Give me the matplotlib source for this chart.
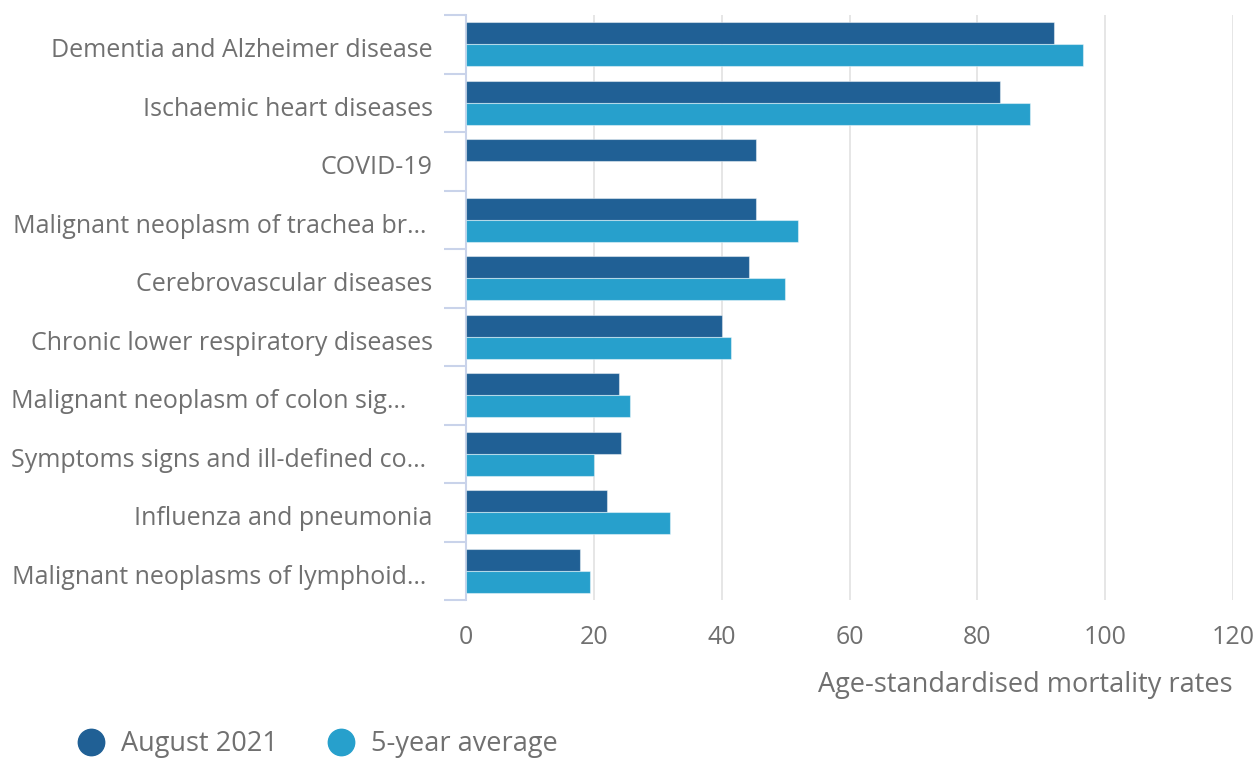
import matplotlib
matplotlib.use("Agg")
import matplotlib.pyplot as plt
from matplotlib.lines import Line2D
from matplotlib.ticker import FixedLocator
import numpy as np

categories = [
    "Dementia and Alzheimer disease",
    "Ischaemic heart diseases",
    "COVID-19",
    "Malignant neoplasm of trachea br\u2026 ",
    "Cerebrovascular diseases",
    "Chronic lower respiratory diseases",
    "Malignant neoplasm of colon sig\u2026    ",
    "Symptoms signs and ill-defined co\u2026 ",
    "Influenza and pneumonia",
    "Malignant neoplasms of lymphoid\u2026 ",
]
august_2021 = [92.0, 83.6, 45.3, 45.3, 44.2, 40.1, 23.9, 24.3, 22.1, 17.9]
five_year_avg = [96.6, 88.2, np.nan, 52.0, 49.9, 41.4, 25.7, 20.0, 31.9, 19.4]
x_ticks = [0, 20, 40, 60, 80, 100, 120]
series_names = ["August 2021", "5-year average"]

DARK = "#206095"
LIGHT = "#27a0cc"
TEXT = "#707070"
SPINE = "#c9d3ea"
GRID = "#e4e4e4"

plt.rcParams["font.family"] = ["Open Sans", "DejaVu Sans"]

fig = plt.figure(figsize=(12.57, 7.58), dpi=100)
ax = fig.add_axes([466 / 1257, 1 - 600 / 758, (1233 - 466) / 1257, (600 - 15) / 758])

y = np.arange(len(categories))
h = 0.38
ax.barh(y - h / 2, august_2021, height=h, color=DARK, edgecolor=(1, 1, 1, 0.45), linewidth=0.8, zorder=3)
ax.barh(y + h / 2, five_year_avg, height=h, color=LIGHT, edgecolor=(1, 1, 1, 0.45), linewidth=0.8, zorder=3)

ax.set_xlim(0, 120)
ax.set_ylim(len(categories) - 0.5, -0.5)
ax.set_xticks(x_ticks)
ax.set_xticklabels([str(v) for v in x_ticks])
ax.set_yticks(y + 0.06)
ax.set_yticklabels(categories)
ax.yaxis.set_minor_locator(FixedLocator(np.arange(-0.5, len(categories), 1.0)))

ax.tick_params(axis="y", which="major", length=0, pad=24, labelsize=18, labelcolor=TEXT)
ax.tick_params(axis="y", which="minor", length=16, width=1.5, color=SPINE)
ax.tick_params(axis="x", which="both", length=0, pad=18, labelsize=18, labelcolor=TEXT)

for s in ["top", "right", "bottom"]:
    ax.spines[s].set_visible(False)
ax.spines["left"].set_color(SPINE)
ax.spines["left"].set_linewidth(1.5)

ax.grid(axis="x", color=GRID, linewidth=1.3, zorder=0)
ax.set_axisbelow(True)

ax.set_xlabel("Age-standardised mortality rates", fontsize=19.5, color=TEXT, loc="right", labelpad=15)

handles = [
    Line2D([], [], marker="o", linestyle="none", markersize=19, markerfacecolor=DARK, markeredgecolor=DARK),
    Line2D([], [], marker="o", linestyle="none", markersize=19, markerfacecolor=LIGHT, markeredgecolor=LIGHT),
]
fig.legend(handles, series_names, loc="center left", bbox_to_anchor=(64 / 1257, 1 - 744 / 758),
           ncol=2, frameon=False, fontsize=19.5, labelcolor=TEXT, handletextpad=0.5,
           columnspacing=1.75, handlelength=1.2, borderaxespad=0)

fig.savefig("out.png", dpi=100)
